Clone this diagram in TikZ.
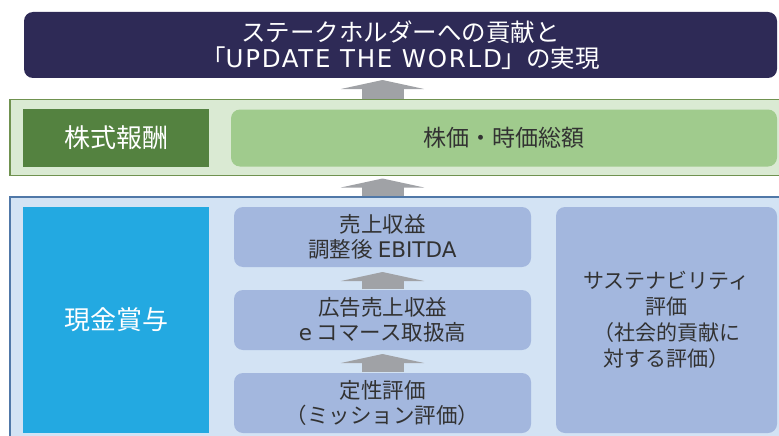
\documentclass[tikz,border=0pt]{standalone}
\usepackage{fontspec}
\setmainfont{Noto Sans CJK JP}
\newfontfamily\latin{DejaVu Sans}
\newfontfamily\latinwide[LetterSpace=7]{DejaVu Sans}
\usetikzlibrary{positioning,arrows.meta}
\definecolor{goalnavy}{RGB}{46,42,86}
\definecolor{greenbg}{RGB}{218,234,211}
\definecolor{greenline}{RGB}{112,146,80}
\definecolor{stockgreen}{RGB}{84,130,64}
\definecolor{pricegreen}{RGB}{160,203,141}
\definecolor{bluebg}{RGB}{211,227,244}
\definecolor{blueline}{RGB}{80,120,168}
\definecolor{cashcyan}{RGB}{35,169,225}
\definecolor{itemblue}{RGB}{163,183,222}
\definecolor{arrowgray}{RGB}{160,162,166}
\definecolor{textgray}{RGB}{50,50,50}

\begin{document}
\begin{tikzpicture}[
    x=1pt, y=-1pt,
    node distance=23pt and 22pt,
    every node/.style={inner sep=0pt, outer sep=0pt, align=center, text=textgray},
    panel/.style={rectangle, anchor=north west},
    item/.style={rectangle, rounded corners=9pt, fill=itemblue, minimum width=297pt,
                 minimum height=60pt, font=\fontsize{21.5}{25.5}\selectfont},
    upstep/.style={draw=arrowgray, line width=42pt, shorten <=1pt,
                   -{Triangle[width=83pt,length=9pt]}}
  ]

  \useasboundingbox (0,0) rectangle (779,436);

  % Nodes
  \node[panel, fill=goalnavy, rounded corners=9pt, minimum width=753pt, minimum height=66pt,
        text=white, font=\fontsize{24.5}{26.5}\selectfont] (goal) at (24,12)
        {ステークホルダーへの貢献と\\「{\latinwide UPDATE THE WORLD}」の実現};

  \node[panel, fill=greenbg, draw=greenline, line width=1.2pt,
        minimum width=775pt, minimum height=76pt] (stockbg) at (10,99.5) {};
  \node[panel, fill=stockgreen, minimum width=186pt, minimum height=58pt,
        text=white, font=\fontsize{26}{28}\selectfont] (stock) at (23,109) {株式報酬};
  \node[right=of stock, rounded corners=9pt, fill=pricegreen, minimum width=546pt,
        minimum height=57pt, font=\fontsize{23}{25}\selectfont] (price) {株価・時価総額};

  \node[panel, fill=bluebg, draw=blueline, line width=1.2pt,
        minimum width=775pt, minimum height=250pt] (cashbg) at (10,197) {};
  \node[panel, fill=cashcyan, minimum width=186pt, minimum height=226pt,
        text=white, font=\fontsize{26}{28}\selectfont] (cash) at (23,207) {現金賞与};
  \node[item, anchor=north west] (sales) at (234,207) {売上収益\\調整後 {\latin EBITDA}};
  \node[item, below=of sales] (adrev) {広告売上収益\\{\latin e} コマース取扱高};
  \node[item, below=of adrev] (mission) {定性評価\\（ミッション評価）};
  \node[panel, rounded corners=9pt, fill=itemblue, minimum width=221pt, minimum height=226pt,
        font=\fontsize{21}{26}\selectfont] (sustain) at (556,207)
        {サステナビリティ\\評価\\（社会的貢献に\\対する評価）};

  % Edges
  \draw[upstep, shorten >=2pt] (stockbg.north -| sales.north) -- (goal.south -| sales.north);
  \draw[upstep, shorten >=3pt] (cashbg.north -| sales.north) -- (stockbg.south -| sales.north);
  \draw[upstep, shorten >=5pt] (adrev.north) -- (sales.south);
  \draw[upstep, shorten >=4pt] (mission.north) -- (adrev.south);

\end{tikzpicture}
\end{document}
